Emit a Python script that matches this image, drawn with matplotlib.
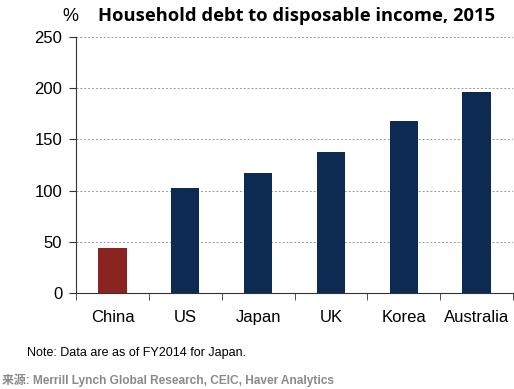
import matplotlib
matplotlib.use("Agg")
import matplotlib.pyplot as plt

countries = ["China", "US", "Japan", "UK", "Korea", "Australia"]
debt_ratio = [44, 102, 117, 138, 168, 196]
bar_colors = ["#8B2320", "#0C2A52", "#0C2A52", "#0C2A52", "#0C2A52", "#0C2A52"]
y_ticks = [0, 50, 100, 150, 200, 250]

label_font = "Liberation Sans"

fig = plt.figure(figsize=(5.14, 3.89), dpi=100)
ax = fig.add_axes([0.148, 0.247, 0.85, 0.658])

x = range(len(countries))
ax.bar(x, debt_ratio, width=0.39, color=bar_colors, zorder=3)

ax.set_xlim(-0.5, len(countries) - 0.5)
ax.set_ylim(0, 250)
ax.set_yticks(y_ticks)
ax.set_yticklabels([str(v) for v in y_ticks], family=label_font, fontsize=12)
ax.set_xticks(list(x))
ax.set_xticklabels(countries, family=label_font, fontsize=12)
ax.set_xticks([i - 0.5 for i in range(len(countries) + 1)], minor=True)
ax.tick_params(axis="x", which="major", length=0, pad=12)
ax.tick_params(axis="x", which="minor", length=5, direction="out", color="#333333")
ax.tick_params(axis="y", length=5, direction="out", color="#333333", pad=5)

for v in y_ticks[1:]:
    ax.axhline(v, color="#999999", linestyle=(0, (2, 2)), linewidth=0.7, zorder=1)

for side in ["top", "right"]:
    ax.spines[side].set_visible(False)
ax.spines["left"].set_color("#333333")
ax.spines["bottom"].set_color("#333333")

fig.text(0.122, 0.958, "%", family=label_font, fontsize=13, ha="left", va="center")
fig.text(0.19, 0.958, "Household debt to disposable income, 2015",
         family="Open Sans", fontweight="bold", fontsize=13.2, ha="left", va="center")
fig.text(0.052, 0.093, "Note: Data are as of FY2014 for Japan.",
         family=label_font, fontsize=9, ha="left", va="center")
fig.text(0.004, 0.022, "来源: Merrill Lynch Global Research, CEIC, Haver Analytics",
         family=["Liberation Sans", "Noto Sans CJK SC"], fontweight="bold",
         fontsize=8.6, color="#8a8a8a", ha="left", va="center")

fig.savefig("out.png", dpi=100)
